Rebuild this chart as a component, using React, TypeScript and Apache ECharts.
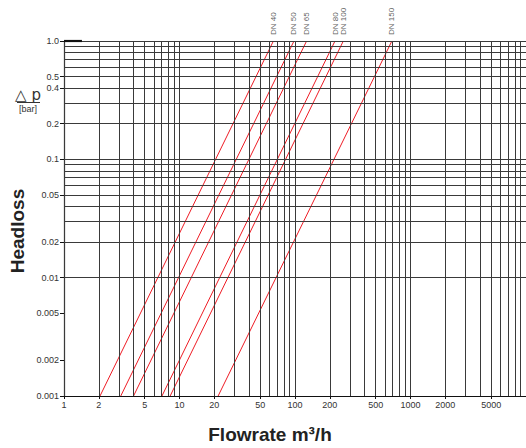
import React, { useEffect, useRef } from "react";
import * as echarts from "echarts";

// DN line names and flow (m3/h) read at 0.001 bar and at 1.0 bar
const dnNames = ["DN 40", "DN 50", "DN 65", "DN 80", "DN 100", "DN 150"];
const flowAtMin = [2.05, 3.1, 4.0, 7.05, 8.3, 21.6];
const flowAtMax = [65, 98, 126, 222, 262, 690];
const dpMin = 0.001;
const dpMax = 1.0;

// Grid lines (1..9 per decade)
const gridX = [
  1, 2, 3, 4, 5, 6, 7, 8, 9,
  10, 20, 30, 40, 50, 60, 70, 80, 90,
  100, 200, 300, 400, 500, 600, 700, 800, 900,
  1000, 2000, 3000, 4000, 5000, 6000, 7000, 8000, 9000,
];
const gridY = [
  0.001, 0.002, 0.003, 0.004, 0.005, 0.006, 0.007, 0.008, 0.009,
  0.01, 0.02, 0.03, 0.04, 0.05, 0.06, 0.07, 0.08, 0.09,
  0.1, 0.2, 0.3, 0.4, 0.5, 0.6, 0.7, 0.8, 0.9, 1.0,
];

// Tick labels
const xTickLabels = [1, 2, 5, 10, 20, 50, 100, 200, 500, 1000, 2000, 5000];
const yTickLabels = [0.001, 0.002, 0.005, 0.01, 0.02, 0.05, 0.1, 0.2, 0.4, 0.5, 1.0];

// Short heavy segment on the top border at the left
const topMarkX = [1, 1.43];

const FONT = "'Liberation Sans', Arial, Helvetica, sans-serif";

export default function App() {
  const ref = useRef<HTMLDivElement>(null);

  useEffect(() => {
    if (!ref.current) return;
    const chart = echarts.init(ref.current, undefined, { renderer: "svg" });

    const redSeries = dnNames.map((name, i) => ({
      type: "line",
      name,
      data: [
        [flowAtMin[i], dpMin],
        [flowAtMax[i], dpMax],
      ],
      symbol: "none",
      silent: true,
      z: 4,
      lineStyle: { color: "#ee1c25", width: 1 },
    }));

    const option: any = {
      animation: false,
      backgroundColor: "#ffffff",
      textStyle: { fontFamily: FONT },
      grid: { left: 64, top: 41, width: 463, height: 355, containLabel: false },
      xAxis: {
        type: "log",
        logBase: 10,
        min: 1,
        max: 10000,
        splitLine: { show: false },
        minorSplitLine: { show: false },
        axisLine: { show: true, lineStyle: { color: "#111", width: 1.2 } },
        axisTick: {
          show: true,
          customValues: xTickLabels,
          length: 3,
          lineStyle: { color: "#111" },
        },
        axisLabel: {
          customValues: xTickLabels,
          fontSize: 9,
          color: "#333",
          margin: 4,
          fontFamily: FONT,
          formatter: (v: number) => String(Number(Number(v).toPrecision(4))),
        },
      },
      yAxis: {
        type: "log",
        logBase: 10,
        min: 0.001,
        max: 1,
        splitLine: { show: false },
        minorSplitLine: { show: false },
        axisLine: { show: true, lineStyle: { color: "#111", width: 1.2 } },
        axisTick: {
          show: true,
          customValues: yTickLabels,
          length: 4,
          lineStyle: { color: "#111" },
        },
        axisLabel: {
          customValues: yTickLabels,
          fontSize: 9,
          color: "#333",
          margin: 5,
          fontFamily: FONT,
          formatter: (v: number) => {
            const n = Number(Number(v).toPrecision(3));
            return n === 1 ? "1.0" : String(n);
          },
        },
      },
      series: [
        {
          type: "line",
          data: [[1, 1]],
          symbol: "none",
          silent: true,
          z: 1,
          lineStyle: { opacity: 0 },
          markLine: {
            silent: true,
            symbol: "none",
            animation: false,
            label: { show: false },
            emphasis: { disabled: true },
            lineStyle: { color: "#3a3a3a", width: 1, type: "solid" },
            data: [
              ...gridX.map((v) => ({ xAxis: v })),
              ...gridY.map((v) => ({ yAxis: v })),
              [
                { coord: [topMarkX[0], dpMax], lineStyle: { color: "#111", width: 2.2 } },
                { coord: [topMarkX[1], dpMax] },
              ],
            ],
          },
        },
        ...redSeries,
        {
          type: "scatter",
          data: dnNames.map((name, i) => ({ value: [flowAtMax[i], dpMax], name })),
          symbolSize: 0,
          silent: true,
          clip: false,
          z: 5,
          label: {
            show: true,
            formatter: (p: any) => p.name,
            position: "top",
            rotate: 90,
            align: "left",
            verticalAlign: "middle",
            distance: 6,
            fontSize: 8,
            color: "#333",
            fontFamily: FONT,
          },
        },
      ],
      graphic: [
        {
          type: "text",
          x: 17,
          y: 231,
          rotation: Math.PI / 2,
          style: {
            text: "Headloss",
            font: `bold 19px ${FONT}`,
            fill: "#222",
            align: "center",
            verticalAlign: "middle",
          },
        },
        {
          type: "text",
          x: 270,
          y: 434,
          style: {
            text: "Flowrate m³/h",
            font: `bold 19px ${FONT}`,
            fill: "#222",
            align: "center",
            verticalAlign: "middle",
          },
        },
        {
          type: "text",
          x: 28,
          y: 95,
          style: {
            text: "△ p",
            font: `15px 'DejaVu Sans', ${FONT}`,
            fill: "#333",
            align: "center",
            verticalAlign: "middle",
          },
        },
        {
          type: "line",
          shape: { x1: 17, y1: 102.5, x2: 40, y2: 102.5 },
          style: { stroke: "#333", lineWidth: 1 },
        },
        {
          type: "text",
          x: 28,
          y: 109,
          style: {
            text: "[bar]",
            font: `9px ${FONT}`,
            fill: "#333",
            align: "center",
            verticalAlign: "middle",
          },
        },
      ],
    };

    chart.setOption(option);
    return () => chart.dispose();
  }, []);

  return (
    <div
      ref={ref}
      style={{ position: "fixed", left: 0, top: 0, width: 526, height: 448 }}
    />
  );
}
